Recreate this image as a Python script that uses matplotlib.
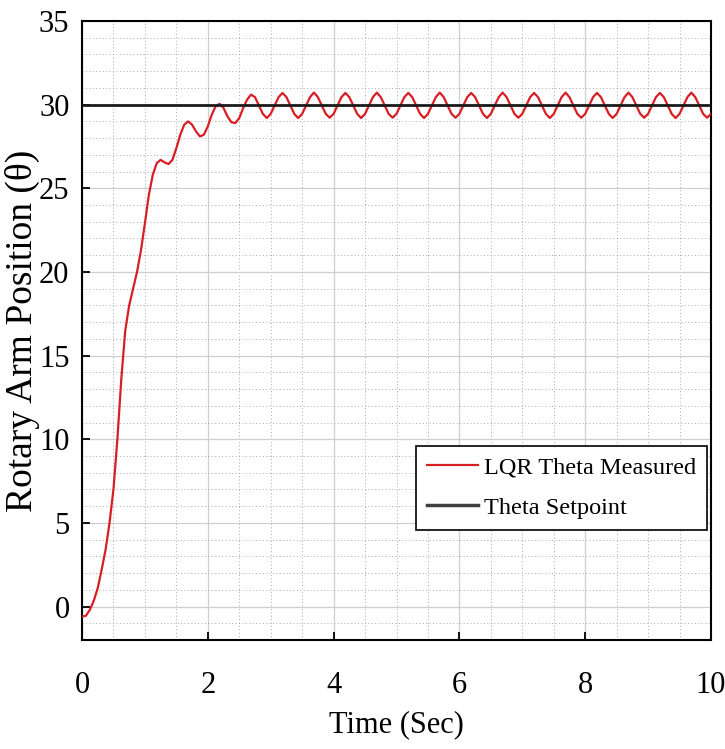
import numpy as np
import matplotlib
matplotlib.use("Agg")
import matplotlib.pyplot as plt
from matplotlib.ticker import MultipleLocator

# Time base (seconds), sampled every 0.0625 s from 0 to 10
time_s = np.linspace(0.0, 10.0, 161)

# Measured rotary arm angle (deg)
theta_measured = [
    -0.6, -0.55, -0.2, 0.35, 1.1, 2.2, 3.4, 5.0,
    7.0, 10.0, 13.6, 16.5, 18.0, 19.0, 20.0, 21.3,
    22.9, 24.6, 25.8, 26.5, 26.7, 26.55, 26.45, 26.7,
    27.4, 28.2, 28.8, 29.0, 28.8, 28.4, 28.1, 28.2,
    28.7, 29.4, 29.9, 30.05, 29.8, 29.3, 28.95, 28.9,
    29.2, 29.8, 30.3, 30.6, 30.45, 29.95, 29.45, 29.2,
    29.45, 29.95, 30.45, 30.7, 30.45, 29.95, 29.45, 29.2,
    29.45, 29.95, 30.45, 30.72, 30.45, 29.95, 29.45, 29.22,
    29.45, 29.95, 30.45, 30.7, 30.45, 29.95, 29.45, 29.2,
    29.45, 29.95, 30.45, 30.72, 30.45, 29.95, 29.45, 29.22,
    29.45, 29.95, 30.45, 30.7, 30.45, 29.95, 29.45, 29.2,
    29.45, 29.95, 30.45, 30.72, 30.45, 29.95, 29.45, 29.22,
    29.45, 29.95, 30.45, 30.7, 30.45, 29.95, 29.45, 29.2,
    29.45, 29.95, 30.45, 30.72, 30.45, 29.95, 29.45, 29.22,
    29.45, 29.95, 30.45, 30.7, 30.45, 29.95, 29.45, 29.2,
    29.45, 29.95, 30.45, 30.72, 30.45, 29.95, 29.45, 29.22,
    29.45, 29.95, 30.45, 30.7, 30.45, 29.95, 29.45, 29.2,
    29.45, 29.95, 30.45, 30.72, 30.45, 29.95, 29.45, 29.22,
    29.45, 29.95, 30.45, 30.7, 30.45, 29.95, 29.45, 29.2,
    29.45, 29.95, 30.45, 30.72, 30.45, 29.95, 29.45, 29.22,
    29.45,
]
setpoint_value = 30.0

x_ticks = [0, 2, 4, 6, 8, 10]
y_ticks = [0, 5, 10, 15, 20, 25, 30, 35]
x_label = "Time (Sec)"
y_label = "Rotary Arm Position (\u03b8)"
legend_labels = ["LQR Theta Measured", "Theta Setpoint"]

plt.rcParams["font.family"] = ["Liberation Serif", "DejaVu Serif"]

fig = plt.figure(figsize=(7.25, 7.49), dpi=100)
ax = fig.add_axes([82 / 725, 1 - 640 / 749, (711 - 82) / 725, (640 - 21) / 749])

ax.plot(time_s, theta_measured, color="#d81e24", lw=1.6, label=legend_labels[0],
        zorder=3, solid_joinstyle="round")
ax.axhline(setpoint_value, color="#1a1a1a", lw=2.0, label=legend_labels[1], zorder=4)

ax.set_xlim(0, 10)
ax.set_ylim(-2, 35)
ax.set_xticks(x_ticks)
ax.set_yticks(y_ticks)
ax.xaxis.set_minor_locator(MultipleLocator(0.5))
ax.yaxis.set_minor_locator(MultipleLocator(1))

ax.grid(which="major", color="#cfcfcf", lw=0.9, ls="-")
ax.grid(which="minor", color="#a8a8a8", lw=0.7, ls=(0, (1, 2.5)))
ax.set_axisbelow(True)

ax.tick_params(which="major", direction="in", length=6, width=1.3,
               labelsize=22, top=False, right=False)
ax.tick_params(axis="x", which="major", pad=22)
ax.tick_params(axis="y", which="major", pad=9)
ax.tick_params(which="minor", length=0)
for s in ax.spines.values():
    s.set_linewidth(1.5)
    s.set_color("black")

ax.set_xlabel(x_label, fontsize=22, labelpad=8)
ax.set_ylabel(y_label, fontsize=27, labelpad=-1)

leg = ax.legend(loc="lower right", bbox_to_anchor=(0.994, 0.178), fontsize=17.5,
                frameon=True, fancybox=False, edgecolor="black",
                framealpha=1.0, handlelength=2.1, handletextpad=0.25,
                borderpad=0.45, labelspacing=0.75, borderaxespad=0.0)
leg.get_frame().set_linewidth(1.2)
leg.get_lines()[1].set_color("#404040")
leg.get_lines()[1].set_linewidth(2.5)

fig.savefig("out.png", dpi=100)
